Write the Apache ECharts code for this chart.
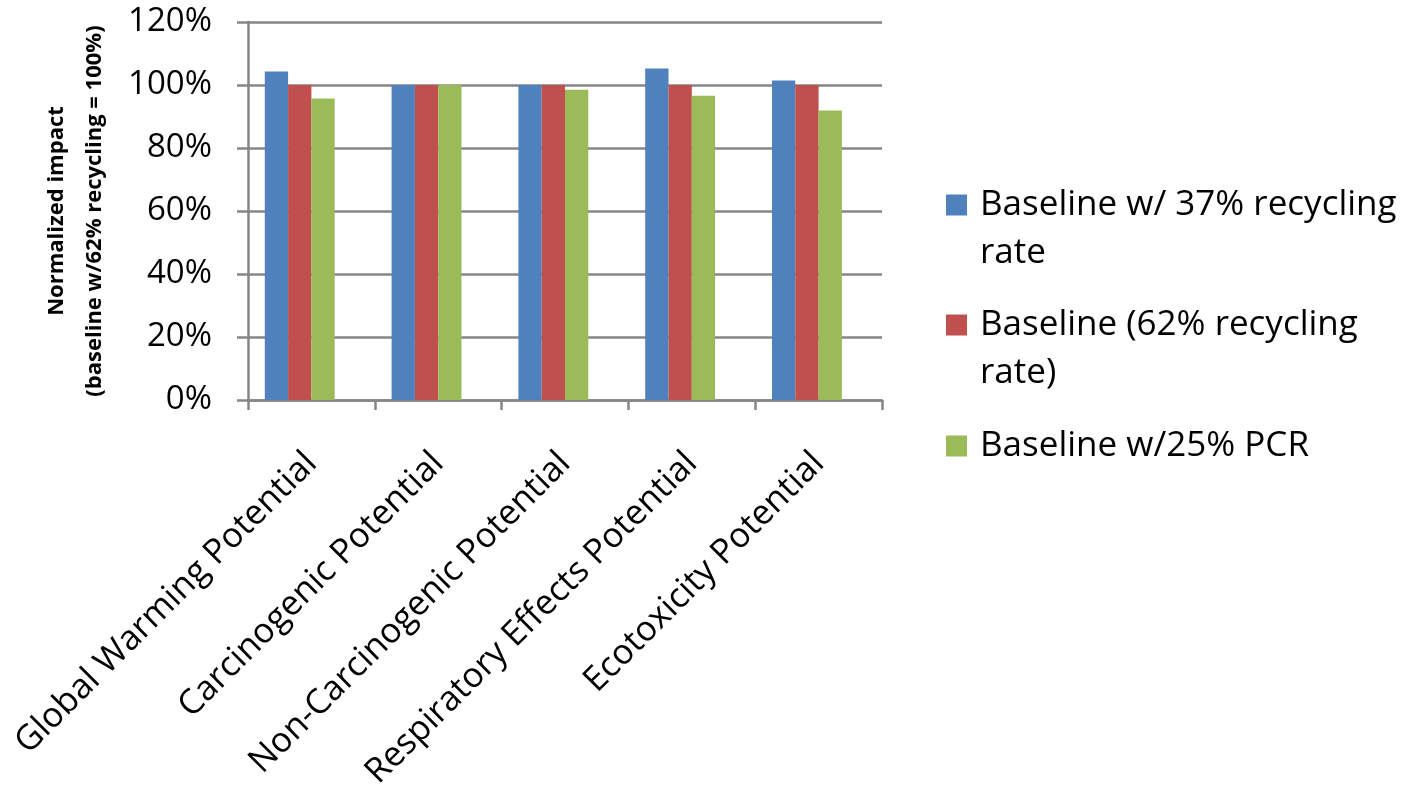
<!DOCTYPE html>
<html>
<head>
<meta charset="utf-8">
<title>Normalized impact by category</title>
<script src="https://cdn.jsdelivr.net/npm/echarts@6/dist/echarts.min.js"></script>
<style>
  html, body { margin: 0; padding: 0; background: #fff; }
  #chart { width: 1416px; height: 787px; }
</style>
</head>
<body>
<div id="chart"></div>
<script>
// Impact categories along the x axis
const categories = [
  'Global Warming Potential',
  'Carcinogenic Potential',
  'Non-Carcinogenic Potential',
  'Respiratory Effects Potential',
  'Ecotoxicity Potential'
];

// Series names and normalized impacts (%; baseline with 62% recycling = 100%)
const seriesNames = [
  'Baseline w/ 37% recycling rate',
  'Baseline (62% recycling rate)',
  'Baseline w/25% PCR'
];
const recycling37 = [104.3, 100, 100, 105.2, 101.4];
const recycling62 = [100, 100, 100, 100, 100];
const pcr25 = [95.7, 100, 98.5, 96.6, 91.9];

// Legend text, wrapped onto two lines where needed
const legendLines = [
  ['Baseline w/ 37% recycling', 'rate'],
  ['Baseline (62% recycling', 'rate)'],
  ['Baseline w/25% PCR']
];

// y axis ticks
const yMin = 0, yMax = 120, yStep = 20;

const colors = ['#4F81BD', '#C0504D', '#9BBB59'];
const axisGray = '#868686';
const FONT = '"Open Sans", "Liberation Sans", sans-serif';

const chart = echarts.init(document.getElementById('chart'), null, { renderer: 'canvas' });

// Legend rows: icon sits beside the first line of each entry.
// A blank line before the text keeps that first line level with the icon.
const legendIconCenters = [205, 325, 446];
const legends = seriesNames.map((name, i) => {
  const lines = legendLines[i].slice();
  while (lines.length < 2) lines.push('');
  const text = '\n' + lines.join('\n');
  return {
    orient: 'vertical',
    left: 946,
    top: legendIconCenters[i] - 72,
    padding: 0,
    itemWidth: 21,
    itemHeight: 21,
    icon: 'rect',
    data: [name],
    selectedMode: false,
    formatter: () => text,
    textStyle: {
      fontFamily: FONT,
      fontSize: 35,
      color: '#000',
      lineHeight: 48,
      padding: [0, 0, 0, 8]
    }
  };
});

const seriesValues = [recycling37, recycling62, pcr25];
const series = seriesNames.map((name, i) => ({
  name,
  type: 'bar',
  data: seriesValues[i],
  itemStyle: { color: colors[i] },
  barGap: '0%',
  barCategoryGap: '26.5%'
}));
// Fourth, empty slot in each group (no data), so the three bars sit left of centre
series.push({
  name: 'reserved',
  type: 'bar',
  data: [],
  barGap: '0%',
  barCategoryGap: '26.5%'
});

chart.setOption({
  animation: false,
  backgroundColor: '#fff',
  color: colors,
  legend: legends,
  grid: {
    left: 248, right: 534, top: 22, bottom: 387,
    containLabel: false,
    outerBoundsMode: 'none'
  },
  xAxis: {
    type: 'category',
    data: categories,
    boundaryGap: true,
    axisLine: { show: true, lineStyle: { color: axisGray, width: 2.5 } },
    axisTick: { show: true, length: 10, alignWithLabel: false, lineStyle: { color: axisGray, width: 2.5 } },
    axisLabel: {
      rotate: 45,
      interval: 0,
      margin: 58,
      fontFamily: FONT,
      fontSize: 34.5,
      color: '#000'
    },
    splitLine: { show: false }
  },
  yAxis: {
    type: 'value',
    min: yMin,
    max: yMax,
    interval: yStep,
    name: 'Normalized impact\n(baseline w/62% recycling = 100%)',
    nameLocation: 'middle',
    nameRotate: 90,
    nameGap: 134,
    nameTextStyle: {
      fontFamily: FONT,
      fontWeight: 'bold',
      fontSize: 22,
      lineHeight: 38,
      color: '#000'
    },
    axisLine: { show: true, lineStyle: { color: axisGray, width: 2.5 } },
    axisTick: { show: true, length: 11, inside: false, lineStyle: { color: axisGray, width: 2.5 } },
    axisLabel: {
      margin: 36,
      formatter: '{value}%',
      fontFamily: FONT,
      fontSize: 33,
      color: '#000'
    },
    splitLine: { show: true, lineStyle: { color: axisGray, width: 2.5 } }
  },
  series
});
</script>
</body>
</html>
